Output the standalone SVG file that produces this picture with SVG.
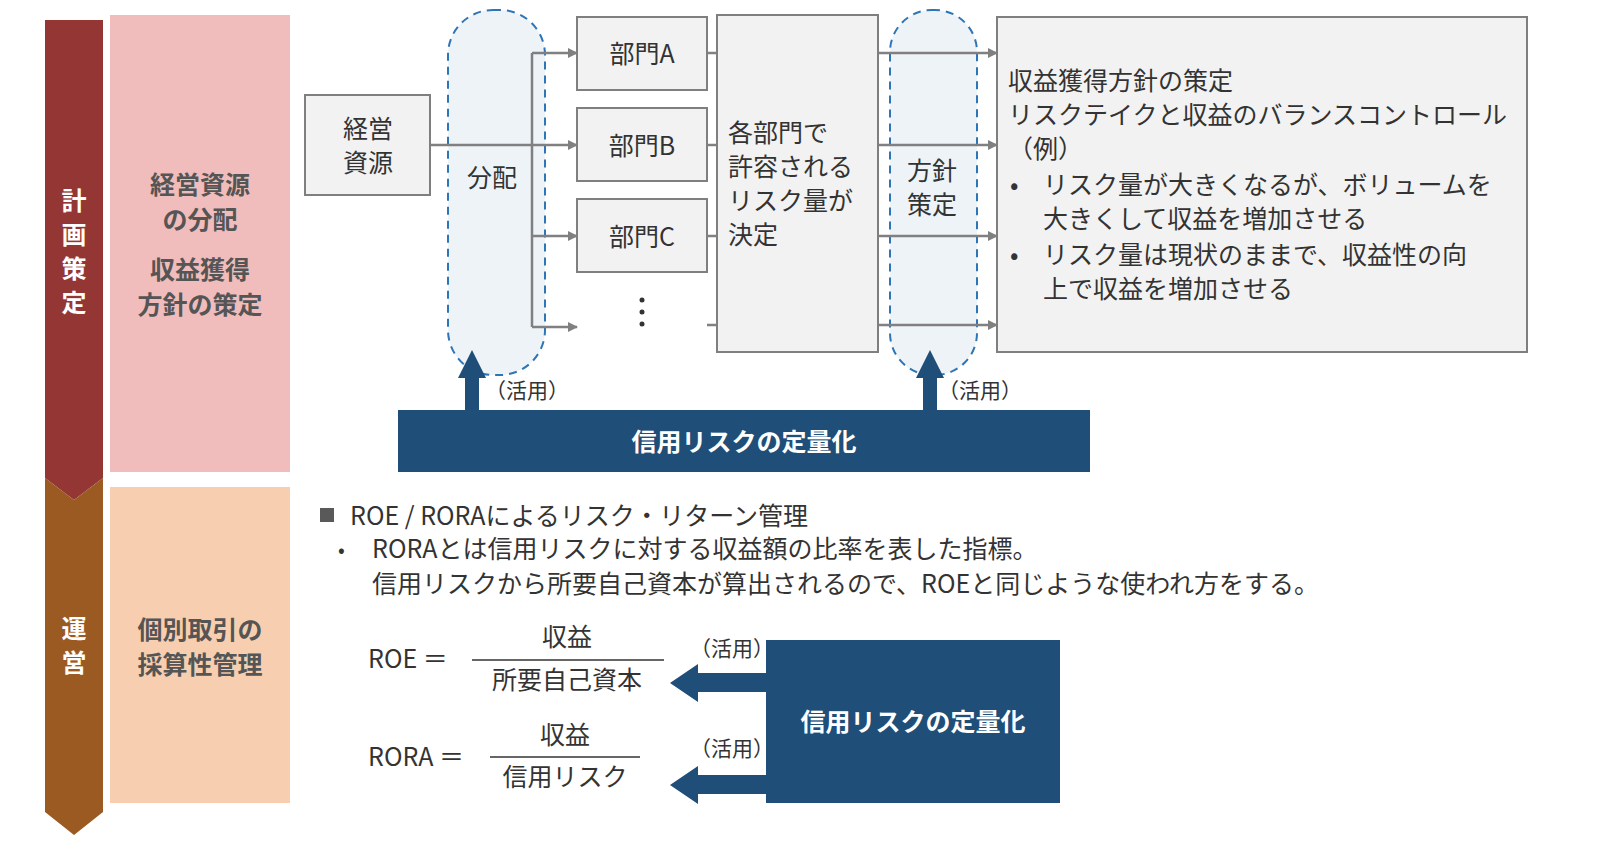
<svg xmlns="http://www.w3.org/2000/svg" width="1600" height="865" viewBox="0 0 1600 865">
<style>
text{font-family:"Noto Sans CJK JP","Noto Sans CJK SC",sans-serif;fill:#333}
.b{fill:#f2f2f2;stroke:#7f7f7f;stroke-width:2}
.pill{fill:#eef3f8;stroke:#2e75b6;stroke-width:2;stroke-dasharray:8 6}
.ln{stroke:#808080;stroke-width:2.5;fill:none}
.t24{font-size:25px}
.w{fill:#fff;font-weight:bold}
.lab{font-size:25px;font-weight:bold;fill:#555}
</style>
<defs>
<marker id="ar" markerWidth="10" markerHeight="10" refX="9" refY="5" orient="auto" markerUnits="userSpaceOnUse" viewBox="0 0 10 10"><path d="M0,0 L10,5 L0,10 z" fill="#808080"/></marker>
</defs>
<rect width="1600" height="865" fill="#fff"/>
<g id="phase-plan"><path d="M45,20 H103 V478 L74,500 L45,478 Z" fill="#943634"/>
<text x="74" y="210" class="w" font-size="25" text-anchor="middle">計</text><text x="74" y="244" class="w" font-size="25" text-anchor="middle">画</text><text x="74" y="278" class="w" font-size="25" text-anchor="middle">策</text><text x="74" y="312" class="w" font-size="25" text-anchor="middle">定</text></g>
<g id="phase-ops"><path d="M45,478 L74,500 L103,478 V812 L74,835 L45,812 Z" fill="#9c5a23"/>
<text x="74" y="638" class="w" font-size="25" text-anchor="middle">運</text><text x="74" y="672" class="w" font-size="25" text-anchor="middle">営</text></g>
<g id="label-plan"><rect x="110" y="15" width="180" height="457" fill="#f0bcbc"/>
<text x="200" y="194" class="lab" text-anchor="middle">経営資源</text><text x="200" y="229" class="lab" text-anchor="middle">の分配</text><text x="200" y="279" class="lab" text-anchor="middle">収益獲得</text><text x="200" y="314" class="lab" text-anchor="middle">方針の策定</text></g>
<g id="label-ops"><rect x="110" y="487" width="180" height="316" fill="#f7cfb0"/>
<text x="200" y="639" class="lab" text-anchor="middle">個別取引の</text><text x="200" y="674" class="lab" text-anchor="middle">採算性管理</text></g>
<g id="pill-bunpai"><rect x="448" y="10" width="97" height="365" rx="45" class="pill"/><text x="492" y="187" class="t24" text-anchor="middle">分配</text></g>
<g id="pill-houshin"><rect x="890" y="10" width="87" height="365" rx="42" class="pill"/><text x="932" y="180" class="t24" text-anchor="middle">方針</text><text x="932" y="214" class="t24" text-anchor="middle">策定</text></g>
<g id="connectors">
<path class="ln" d="M430,145 H532 M532,53 V327"/>
<path class="ln" marker-end="url(#ar)" d="M532,53 H577"/><path class="ln" marker-end="url(#ar)" d="M532,145 H577"/><path class="ln" marker-end="url(#ar)" d="M532,236 H577"/><path class="ln" marker-end="url(#ar)" d="M532,327 H577"/>
<path class="ln" d="M707,53 H717 M707,145 H717 M707,236 H717 M707,325 H717"/>
<path class="ln" marker-end="url(#ar)" d="M878,53 H997"/><path class="ln" marker-end="url(#ar)" d="M878,145 H997"/><path class="ln" marker-end="url(#ar)" d="M878,236 H997"/><path class="ln" marker-end="url(#ar)" d="M878,325 H997"/>
<path d="M465,410 V378 H458 L472,350 L486,378 H479 V410 Z" fill="#1f4e79"/>
<path d="M923,410 V378 H916 L930,350 L944,378 H937 V410 Z" fill="#1f4e79"/>
<path d="M766,673 H698 V664 L670,683 L698,702 V692 H766 Z" fill="#1f4e79"/>
<path d="M766,775 H698 V766 L670,785 L698,804 V794 H766 Z" fill="#1f4e79"/>
</g>
<g id="keiei"><rect x="305" y="95" width="125" height="100" class="b"/><text x="368" y="138" class="t24" text-anchor="middle">経営</text><text x="368" y="172" class="t24" text-anchor="middle">資源</text></g>
<g id="bumonA"><rect x="577" y="17" width="130" height="73" class="b"/><text x="642" y="63" class="t24" text-anchor="middle">部門A</text></g>
<g id="bumonB"><rect x="577" y="108" width="130" height="73" class="b"/><text x="642" y="155" class="t24" text-anchor="middle">部門B</text></g>
<g id="bumonC"><rect x="577" y="199" width="130" height="73" class="b"/><text x="642" y="246" class="t24" text-anchor="middle">部門C</text></g>
<g id="dots"><circle cx="642" cy="300" r="2.5" fill="#333"/><circle cx="642" cy="312" r="2.5" fill="#333"/><circle cx="642" cy="324" r="2.5" fill="#333"/></g>
<g id="kyoyou"><rect x="717" y="15" width="161" height="337" class="b"/>
<text x="728" y="142" class="t24">各部門で</text><text x="728" y="176" class="t24">許容される</text><text x="728" y="210" class="t24">リスク量が</text><text x="728" y="244" class="t24">決定</text></g>
<g id="policy"><rect x="997" y="17" width="530" height="335" class="b"/>
<text x="1008" y="90" class="t24">収益獲得方針の策定</text>
<text x="1008" y="124" class="t24">リスクテイクと収益のバランスコントロール</text>
<text x="1008" y="158" class="t24">（例）</text>
<text x="1010" y="194" class="t24">•</text><text x="1043" y="194" class="t24">リスク量が大きくなるが、ボリュームを</text>
<text x="1043" y="228" class="t24">大きくして収益を増加させる</text>
<text x="1010" y="264" class="t24">•</text><text x="1043" y="264" class="t24">リスク量は現状のままで、収益性の向</text>
<text x="1043" y="298" class="t24">上で収益を増加させる</text></g>
<g id="credit1"><rect x="398" y="410" width="692" height="62" fill="#1f4e79"/><text x="744" y="451" class="w" font-size="25" text-anchor="middle">信用リスクの定量化</text></g>
<text x="485" y="398" font-size="21">（活用）</text><text x="938" y="398" font-size="21">（活用）</text>
<g id="notes">
<rect x="320" y="508" width="14" height="14" fill="#595959"/>
<text x="350" y="525" class="t24">ROE / RORAによるリスク・リターン管理</text>
<text x="338" y="557" font-size="20" fill="#999">•</text>
<text x="372" y="558" class="t24">RORAとは信用リスクに対する収益額の比率を表した指標。</text>
<text x="372" y="593" class="t24">信用リスクから所要自己資本が算出されるので、ROEと同じような使われ方をする。</text>
</g>
<g id="roe"><text x="368" y="668" class="t24">ROE ＝</text><text x="567" y="646" class="t24" text-anchor="middle">収益</text><line x1="472" y1="660" x2="664" y2="660" stroke="#333" stroke-width="1.5"/><text x="567" y="689" class="t24" text-anchor="middle">所要自己資本</text></g>
<g id="rora"><text x="368" y="766" class="t24">RORA ＝</text><text x="565" y="744" class="t24" text-anchor="middle">収益</text><line x1="490" y1="757" x2="640" y2="757" stroke="#333" stroke-width="1.5"/><text x="565" y="786" class="t24" text-anchor="middle">信用リスク</text></g>
<text x="690" y="656" font-size="21">（活用）</text><text x="690" y="756" font-size="21">（活用）</text>
<g id="credit2"><rect x="766" y="640" width="294" height="163" fill="#1f4e79"/><text x="913" y="731" class="w" font-size="25" text-anchor="middle">信用リスクの定量化</text></g>
</svg>
